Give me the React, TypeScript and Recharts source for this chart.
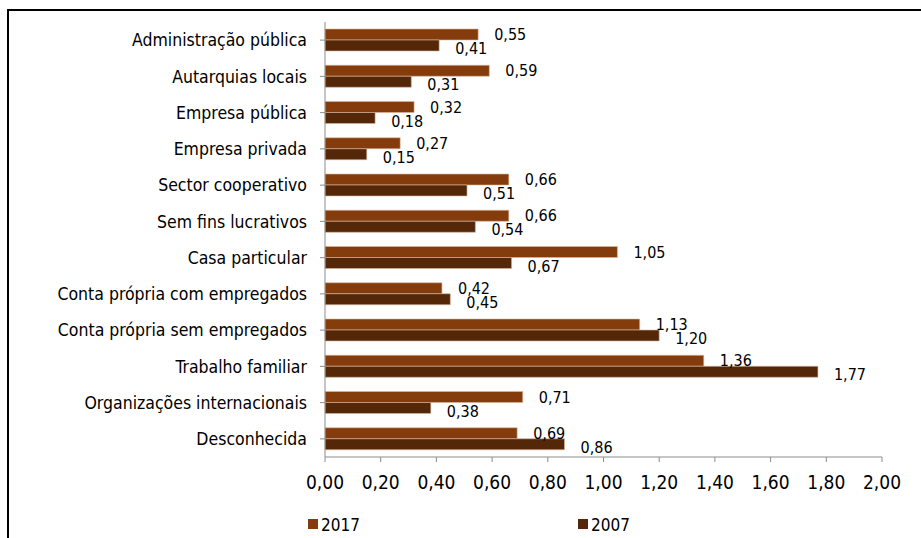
import React from "react";
import { BarChart, Bar, XAxis, YAxis, LabelList } from "recharts";

const categories = [
  "Administração pública",
  "Autarquias locais",
  "Empresa pública",
  "Empresa privada",
  "Sector cooperativo",
  "Sem fins lucrativos",
  "Casa particular",
  "Conta própria com empregados",
  "Conta própria sem empregados",
  "Trabalho familiar",
  "Organizações internacionais",
  "Desconhecida",
];

const values2017 = [0.55, 0.59, 0.32, 0.27, 0.66, 0.66, 1.05, 0.42, 1.13, 1.36, 0.71, 0.69];
const values2007 = [0.41, 0.31, 0.18, 0.15, 0.51, 0.54, 0.67, 0.45, 1.2, 1.77, 0.38, 0.86];

const xTicks = [0, 0.2, 0.4, 0.6, 0.8, 1.0, 1.2, 1.4, 1.6, 1.8, 2.0];

const data = categories.map((name, i) => ({
  name,
  y2017: values2017[i],
  y2007: values2007[i],
}));

const FONT = '"DejaVu Sans Condensed", "DejaVu Sans", sans-serif';
const COLOR_2017 = "#843C0C";
const COLOR_2007 = "#542709";
const AXIS = "#8c8c8c";

const fmt = (v: number) => v.toFixed(2).replace(".", ",");

// Excel puts the labels a bit past the end of each bar
const makeLabel = (dy: number) => (props: any) => {
  const { x, y, width, height, value } = props;
  return (
    <text
      x={Number(x) + Number(width) + 16}
      y={Number(y) + Number(height) / 2 + dy}
      fontSize={16}
      fontFamily={FONT}
      fill="#000"
      dominantBaseline="central"
    >
      {fmt(Number(value))}
    </text>
  );
};

const LegendItem = ({ color, label, left }: { color: string; label: string; left: number }) => (
  <>
    <div style={{ position: "absolute", left, top: 519, width: 10, height: 10, background: color }} />
    <span
      style={{
        position: "absolute",
        left: left + 13,
        top: 515,
        fontFamily: FONT,
        fontSize: 17,
        lineHeight: "20px",
        color: "#000",
      }}
    >
      {label}
    </span>
  </>
);

export default function App() {
  return (
    <div style={{ position: "absolute", left: 0, top: 0, width: 921, height: 538, background: "#fff", overflow: "hidden" }}>
      <div style={{ position: "absolute", left: 7, top: 9, width: 930, height: 560, borderTop: "2px solid #000", borderLeft: "2px solid #000" }} />
      <BarChart
        width={921}
        height={538}
        data={data}
        layout="vertical"
        margin={{ top: 22, right: 39, left: 0, bottom: 51 }}
        barSize={11}
        barGap={0}
      >
        <XAxis
          type="number"
          domain={[0, 2]}
          ticks={xTicks}
          tickFormatter={fmt}
          interval={0}
          height={30}
          stroke={AXIS}
          tickSize={5}
          tickMargin={14}
          tick={{ fill: "#000", fontSize: 19, fontFamily: FONT }}
        />
        <YAxis
          type="category"
          dataKey="name"
          width={325}
          stroke={AXIS}
          tickSize={5}
          tickMargin={13}
          interval={0}
          tick={{ fill: "#000", fontSize: 17.5, fontFamily: FONT }}
        />
        <Bar dataKey="y2017" fill={COLOR_2017} stroke="#dcb9a0" strokeWidth={0.6} isAnimationActive={false}>
          <LabelList dataKey="y2017" content={makeLabel(0)} />
        </Bar>
        <Bar dataKey="y2007" fill={COLOR_2007} stroke="#dcb9a0" strokeWidth={0.6} isAnimationActive={false}>
          <LabelList dataKey="y2007" content={makeLabel(3)} />
        </Bar>
      </BarChart>
      <LegendItem color={COLOR_2017} label="2017" left={308} />
      <LegendItem color={COLOR_2007} label="2007" left={578} />
    </div>
  );
}
